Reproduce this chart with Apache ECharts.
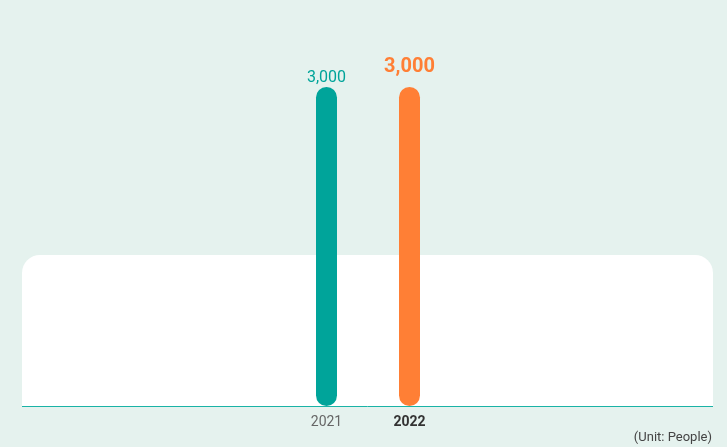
<!DOCTYPE html>
<html><head><meta charset="utf-8">
<script src="https://cdn.jsdelivr.net/npm/echarts@6/dist/echarts.min.js"></script>
<style>html,body{margin:0;padding:0;background:#e5f2ee;}#c{width:727px;height:447px;}</style>
</head><body><div id="c"></div>
<script>
var categories = ['2021', '2022'];
var values = [3000, 3000];
var barColors = ['#00a49a', '#ff7f35'];
var unitText = '(Unit: People)';

var chart = echarts.init(document.getElementById('c'));
chart.setOption({
  backgroundColor: '#e5f2ee',
  animation: false,
  textStyle: { fontFamily: 'Roboto' },
  graphic: [
    { type: 'rect', z: -10, shape: { x: 22, y: 255, width: 691, height: 151, r: [18, 18, 0, 0] }, style: { fill: '#ffffff' } },
    { type: 'line', z: 10, shape: { x1: 22, y1: 406.5, x2: 713, y2: 406.5 }, style: { stroke: '#1ab3a6', lineWidth: 1 } },
    { type: 'text', right: 15, top: 431, style: { text: unitText, fill: '#444', font: '13px Roboto' } }
  ],
  grid: { left: 285, width: 166, top: 87, bottom: 41 },
  xAxis: {
    type: 'category', data: categories,
    axisLine: { show: false }, axisTick: { show: false },
    axisLabel: {
      margin: 9,
      formatter: function (v, i) { return i === 1 ? '{b|' + v + '}' : '{a|' + v + '}'; },
      rich: {
        a: { fontSize: 14, color: '#666', fontFamily: 'Roboto' },
        b: { fontSize: 14, color: '#333', fontWeight: 'bold', fontFamily: 'Roboto' }
      }
    }
  },
  yAxis: { type: 'value', min: 0, max: 3000, show: false, splitLine: { show: false } },
  series: [{
    type: 'bar', barWidth: 21,
    data: values.map(function (v, i) {
      return {
        value: v,
        itemStyle: { color: barColors[i], borderRadius: 10.5 },
        label: i === 1
          ? { show: true, position: 'top', distance: 10, fontSize: 20, fontWeight: 'bold', color: barColors[i] }
          : { show: true, position: 'top', distance: 1, fontSize: 16, color: barColors[i] }
      };
    }),
    label: { show: true, formatter: function (p) { return p.value.toLocaleString('en-US'); } }
  }]
});
</script></body></html>
